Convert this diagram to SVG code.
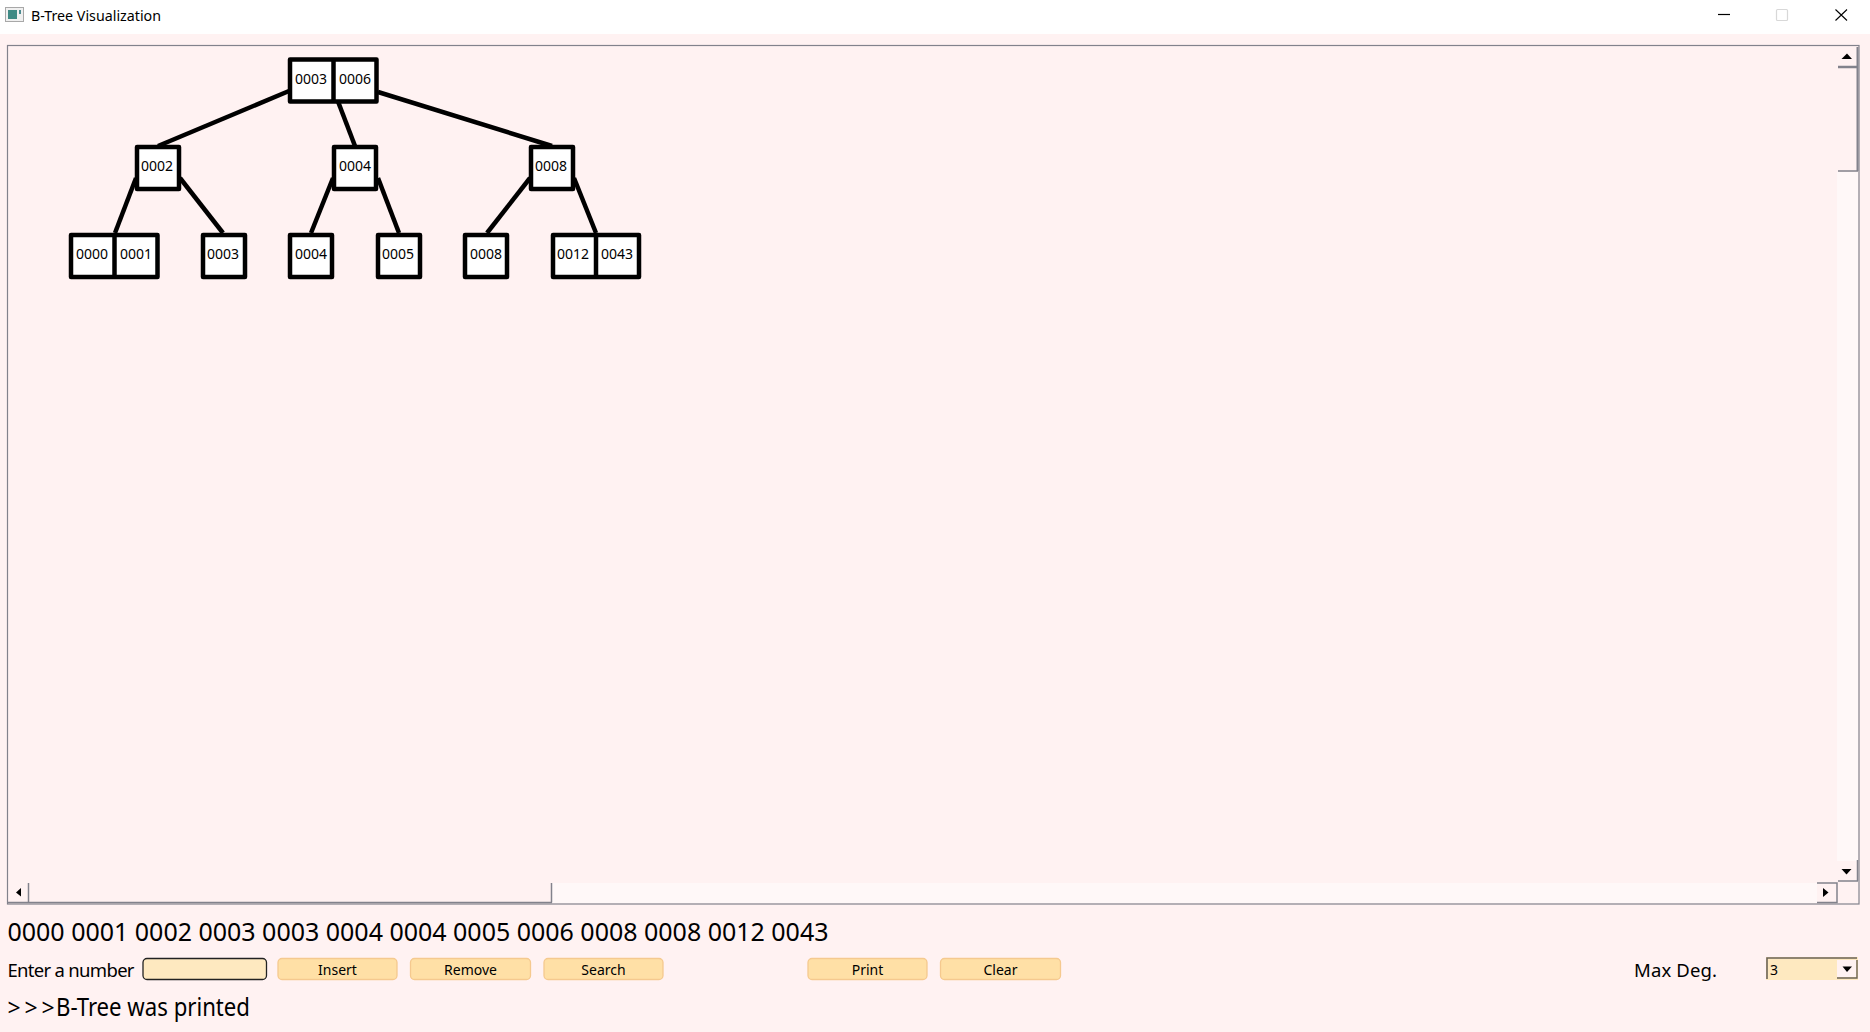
<svg xmlns="http://www.w3.org/2000/svg" width="1870" height="1032" viewBox="0 0 1870 1032">
<style>
text{font-family:"Noto Sans","Open Sans","Liberation Sans",sans-serif;fill:#000}
.k{font-size:14px;text-anchor:middle}
.n{fill:#fff;stroke:#000;stroke-width:4.500;stroke-linejoin:round}
.d{stroke:#000;stroke-width:4.500;fill:none}
.c line{stroke:#000;stroke-width:4.500;stroke-linecap:butt}
.b{fill:#ffe0a6;stroke:#f5c98f;stroke-width:1.3}
.bt{font-size:14px;text-anchor:middle}
.sl{stroke:#82828c;stroke-width:1.5;fill:none}
.a{fill:#000}
</style>
<rect width="1870" height="1032" fill="#fff2f2"/>
<rect width="1870" height="34" fill="#fff"/>
<g id="titlebar">
<rect x="5.500" y="7.500" width="18" height="14" fill="#f0f0f0" stroke="#a8a8a8"/>
<rect x="8" y="10" width="9" height="9" fill="#3f8a85"/>
<rect x="19" y="10" width="2" height="4" fill="#4a8a90"/>
<text x="31" y="21" font-size="14" textLength="130" lengthAdjust="spacingAndGlyphs">B-Tree Visualization</text>
<line x1="1718" y1="14.500" x2="1730" y2="14.500" stroke="#000" stroke-width="1.2"/>
<rect x="1776.500" y="9.500" width="11" height="11" rx="1" fill="#fff" stroke="#d8d8d8" stroke-width="1.2"/>
<path d="M1835.500 9.500 L1847 20.500 M1847 9.500 L1835.500 20.500" stroke="#000" stroke-width="1.1" fill="none"/>
</g>
<g id="canvas">
<rect x="7.500" y="45.500" width="1851.500" height="858.500" fill="#fff2f2" stroke="#82828c" stroke-width="1.2"/>
<rect x="1837" y="172" width="21" height="689" fill="#fff8f8"/>
<rect x="552" y="883" width="1265" height="20" fill="#fff8f8"/>
</g>
<g id="scrollbars">
<path class="sl" d="M1838 66.500 H1857"/>
<path d="M1857.500 47 V171" stroke="#82828c" stroke-width="2" fill="none"/>
<path class="sl" d="M1838 67.500 H1857 M1838 171 H1858"/>
<path class="a" d="M1841.500 59 L1847 53.500 L1852 59 Z"/>
<path class="sl" d="M1838 881 H1858 M1857.500 860 V881"/>
<path class="a" d="M1841.500 869 L1851.500 869 L1846.500 874.500 Z"/>
<path class="sl" d="M8 902.500 H28 M28.500 883 V902.500 M28 902.500 H552 M551.500 883 V902.500"/>
<path class="a" d="M21 888 L21 896.500 L16 892.500 Z"/>
<path class="sl" d="M1817 883 H1837 V902.500 H1817"/>
<path class="a" d="M1823 888 L1823 897 L1828.500 892.500 Z"/>
</g>
<g id="connectors" class="c">
<line x1="289" y1="91" x2="158" y2="146"/>
<line x1="334" y1="91" x2="355" y2="146"/>
<line x1="378" y1="92" x2="552" y2="146"/>
<line x1="136" y1="178" x2="115" y2="233"/>
<line x1="180" y1="178" x2="223" y2="233"/>
<line x1="333" y1="178" x2="311" y2="233"/>
<line x1="378" y1="178" x2="399" y2="233"/>
<line x1="530" y1="178" x2="487" y2="233"/>
<line x1="574" y1="178" x2="596" y2="233"/>
</g>
<g id="node-root"><rect class="n" x="290" y="59.500" width="86.500" height="42"/><line class="d" x1="333.500" y1="59.500" x2="333.500" y2="101.500"/><text class="k" x="311" y="84">0003</text><text class="k" x="355" y="84">0006</text></g>
<g id="node-0002"><rect class="n" x="137" y="147" width="42" height="42"/><text class="k" x="157" y="171">0002</text></g>
<g id="node-0004"><rect class="n" x="334" y="147" width="42" height="42"/><text class="k" x="355" y="171">0004</text></g>
<g id="node-0008"><rect class="n" x="531" y="147" width="42" height="42"/><text class="k" x="551" y="171">0008</text></g>
<g id="leaf-0000-0001"><rect class="n" x="71" y="235" width="86.500" height="42"/><line class="d" x1="114.500" y1="235" x2="114.500" y2="277"/><text class="k" x="92" y="259">0000</text><text class="k" x="136" y="259">0001</text></g>
<g id="leaf-0003"><rect class="n" x="203" y="235" width="42" height="42"/><text class="k" x="223" y="259">0003</text></g>
<g id="leaf-0004"><rect class="n" x="290" y="235" width="42" height="42"/><text class="k" x="311" y="259">0004</text></g>
<g id="leaf-0005"><rect class="n" x="378" y="235" width="42" height="42"/><text class="k" x="398" y="259">0005</text></g>
<g id="leaf-0008"><rect class="n" x="465" y="235" width="42" height="42"/><text class="k" x="486" y="259">0008</text></g>
<g id="leaf-0012-0043"><rect class="n" x="553" y="235" width="86" height="42"/><line class="d" x1="596" y1="235" x2="596" y2="277"/><text class="k" x="573" y="259">0012</text><text class="k" x="617" y="259">0043</text></g>
<g id="controls">
<text x="7.500" y="941" font-size="25" textLength="821">0000 0001 0002 0003 0003 0004 0004 0005 0006 0008 0008 0012 0043</text>
<text x="7.500" y="977" font-size="18.500" textLength="127">Enter a number</text>
<rect x="143" y="958.500" width="123.500" height="21" rx="4" fill="#fee9c0" stroke="#222" stroke-width="1.3"/>
<rect class="b" x="278" y="958.500" width="119" height="21" rx="4"/><text class="bt" x="337.500" y="975">Insert</text>
<rect class="b" x="410.500" y="958.500" width="120" height="21" rx="4"/><text class="bt" x="470.500" y="975">Remove</text>
<rect class="b" x="544" y="958.500" width="119" height="21" rx="4"/><text class="bt" x="603.500" y="975">Search</text>
<rect class="b" x="808" y="958.500" width="119" height="21" rx="4"/><text class="bt" x="867.500" y="975">Print</text>
<rect class="b" x="940.500" y="958.500" width="120" height="21" rx="4"/><text class="bt" x="1000.500" y="975">Clear</text>
<text x="1634" y="977" font-size="18.500" textLength="83">Max Deg.</text>
<rect x="1766" y="957" width="92" height="23" fill="#fee9c0"/>
<path d="M1767 979 V958 H1857" fill="none" stroke="#6b6355" stroke-width="1.6"/>
<path d="M1837 978 H1857 V960" fill="none" stroke="#6b6355" stroke-width="1.4"/>
<rect x="1837" y="960" width="19" height="17" fill="#fff2f2"/>
<path class="a" d="M1842.500 966.500 L1852 966.500 L1847 972 Z"/>
<text x="1770" y="975" font-size="14">3</text>
<text y="1016" font-size="23"><tspan x="7.500">&gt;</tspan><tspan x="24.500">&gt;</tspan><tspan x="41.500">&gt;</tspan></text>
<text x="56" y="1016" font-size="24.500" textLength="194" lengthAdjust="spacingAndGlyphs">B-Tree was printed</text>
</g>
</svg>
